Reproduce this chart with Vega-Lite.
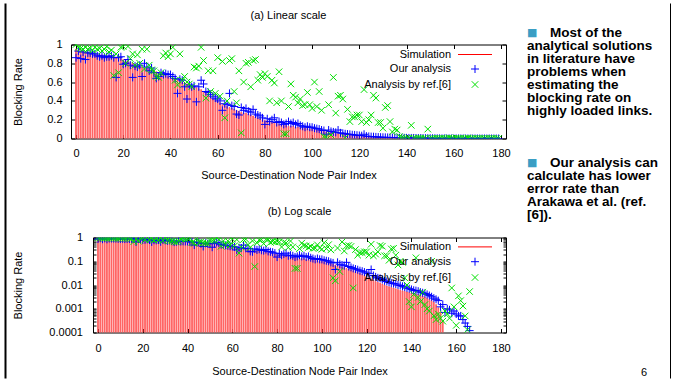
{
"$schema": "https://vega.github.io/schema/vega-lite/v6.json",
"padding": 0,
"background": "white",
"config": {
 "font": "Liberation Sans",
 "view": {"stroke": "black", "strokeWidth": 1},
 "axis": {"labelFont": "Liberation Sans", "labelFontSize": 11, "labelColor": "#000", "tickColor": "#000", "tickWidth": 1, "titleFont": "Liberation Sans", "titleFontSize": 11, "titleFontWeight": "normal", "titleColor": "#000", "minExtent": 0, "domain": false, "domainColor": "#000", "domainWidth": 1, "grid": false, "labelFlush": false, "labelOverlap": false},
 "legend": {"labelFont": "Liberation Sans", "labelFontSize": 11, "labelColor": "#000"},
 "title": {"font": "Liberation Sans", "fontSize": 11, "fontWeight": "normal", "color": "#000", "offset": 17.5, "anchor": "middle", "frame": "group"}
},
"datasets": {
 "d": [
{"i":0,"sim":0.95,"ours":0.86,"ref":1.0},{"i":1,"sim":0.94,"ours":0.93,"ref":0.97},{"i":2,"sim":0.93,"ours":0.85,"ref":0.96},{"i":3,"sim":0.93,"ours":0.92,"ref":0.95},{"i":4,"sim":0.92,"ours":0.84,"ref":0.97},
{"i":5,"sim":0.92,"ours":0.91,"ref":0.95},{"i":6,"sim":0.91,"ours":0.91,"ref":0.96},{"i":7,"sim":0.91,"ours":0.90,"ref":0.94},{"i":8,"sim":0.90,"ours":0.90,"ref":0.97},{"i":9,"sim":0.90,"ours":0.88,"ref":0.95},
{"i":10,"sim":0.89,"ours":0.87,"ref":0.96},{"i":11,"sim":0.89,"ours":0.88,"ref":0.93},{"i":12,"sim":0.88,"ours":0.86,"ref":0.95},{"i":13,"sim":0.88,"ours":0.87,"ref":0.98},{"i":14,"sim":0.88,"ours":0.87,"ref":0.92},
{"i":15,"sim":0.87,"ours":0.88,"ref":0.94},{"i":16,"sim":0.87,"ours":0.86,"ref":0.67},{"i":17,"sim":0.86,"ours":0.65,"ref":0.90},{"i":18,"sim":0.86,"ours":0.86,"ref":0.70},{"i":19,"sim":0.85,"ours":0.87,"ref":0.97},
{"i":20,"sim":0.84,"ours":0.79,"ref":0.98},{"i":21,"sim":0.83,"ours":0.80,"ref":0.80},{"i":22,"sim":0.82,"ours":0.84,"ref":0.98},{"i":23,"sim":0.81,"ours":0.78,"ref":0.85},{"i":24,"sim":0.80,"ours":0.65,"ref":0.90},
{"i":25,"sim":0.79,"ours":0.77,"ref":0.78},{"i":26,"sim":0.78,"ours":0.76,"ref":0.89},{"i":27,"sim":0.77,"ours":0.78,"ref":0.80},{"i":28,"sim":0.76,"ours":0.66,"ref":0.95},{"i":29,"sim":0.75,"ours":0.80,"ref":0.74},
{"i":30,"sim":0.75,"ours":0.76,"ref":0.95},{"i":31,"sim":0.74,"ours":0.72,"ref":0.78},{"i":32,"sim":0.73,"ours":0.75,"ref":0.73},{"i":33,"sim":0.72,"ours":0.70,"ref":0.72},{"i":34,"sim":0.71,"ours":0.64,"ref":0.66},
{"i":35,"sim":0.70,"ours":0.66,"ref":0.65},{"i":36,"sim":0.69,"ours":0.70,"ref":0.70},{"i":37,"sim":0.68,"ours":0.68,"ref":0.88},{"i":38,"sim":0.67,"ours":0.69,"ref":0.91},{"i":39,"sim":0.66,"ours":0.68,"ref":0.87},
{"i":40,"sim":0.65,"ours":0.68,"ref":0.90},{"i":41,"sim":0.64,"ours":0.66,"ref":0.97},{"i":42,"sim":0.63,"ours":0.64,"ref":0.62},{"i":43,"sim":0.62,"ours":0.48,"ref":0.57},{"i":44,"sim":0.61,"ours":0.63,"ref":0.90},
{"i":45,"sim":0.60,"ours":0.62,"ref":0.62},{"i":46,"sim":0.59,"ours":0.55,"ref":0.66},{"i":47,"sim":0.58,"ours":0.42,"ref":0.60},{"i":48,"sim":0.57,"ours":0.57,"ref":0.58},{"i":49,"sim":0.56,"ours":0.55,"ref":0.55},
{"i":50,"sim":0.55,"ours":0.56,"ref":0.76},{"i":51,"sim":0.54,"ours":0.39,"ref":0.75},{"i":52,"sim":0.53,"ours":0.55,"ref":0.77},{"i":53,"sim":0.52,"ours":0.62,"ref":0.97},{"i":54,"sim":0.50,"ours":0.58,"ref":0.83},
{"i":55,"sim":0.48,"ours":0.50,"ref":0.43},{"i":56,"sim":0.46,"ours":0.49,"ref":0.72},{"i":57,"sim":0.44,"ours":0.47,"ref":0.50},{"i":58,"sim":0.42,"ours":0.45,"ref":0.72},{"i":59,"sim":0.41,"ours":0.43,"ref":0.48},
{"i":60,"sim":0.40,"ours":0.42,"ref":0.86},{"i":61,"sim":0.38,"ours":0.40,"ref":0.45},{"i":62,"sim":0.36,"ours":0.30,"ref":0.82},{"i":63,"sim":0.35,"ours":0.37,"ref":0.22},{"i":64,"sim":0.34,"ours":0.36,"ref":0.40},
{"i":65,"sim":0.33,"ours":0.48,"ref":0.83},{"i":66,"sim":0.32,"ours":0.35,"ref":0.85},{"i":67,"sim":0.31,"ours":0.34,"ref":0.50},{"i":68,"sim":0.30,"ours":0.26,"ref":0.38},{"i":69,"sim":0.29,"ours":0.25,"ref":0.72},
{"i":70,"sim":0.28,"ours":0.33,"ref":0.06},{"i":71,"sim":0.27,"ours":0.30,"ref":0.60},{"i":72,"sim":0.27,"ours":0.32,"ref":0.80},{"i":73,"sim":0.26,"ours":0.29,"ref":0.81},{"i":74,"sim":0.25,"ours":0.28,"ref":0.55},
{"i":75,"sim":0.24,"ours":0.31,"ref":0.83},{"i":76,"sim":0.23,"ours":0.26,"ref":0.84},{"i":77,"sim":0.22,"ours":0.25,"ref":0.62},{"i":78,"sim":0.21,"ours":0.24,"ref":0.68},{"i":79,"sim":0.20,"ours":0.22,"ref":0.65},
{"i":80,"sim":0.19,"ours":0.15,"ref":0.69},{"i":81,"sim":0.19,"ours":0.21,"ref":0.66},{"i":82,"sim":0.18,"ours":0.18,"ref":0.40},{"i":83,"sim":0.17,"ours":0.20,"ref":0.62},{"i":84,"sim":0.17,"ours":0.22,"ref":0.59},
{"i":85,"sim":0.16,"ours":0.17,"ref":0.38},{"i":86,"sim":0.15,"ours":0.18,"ref":0.71},{"i":87,"sim":0.15,"ours":0.17,"ref":0.40},{"i":88,"sim":0.14,"ours":0.15,"ref":0.05},{"i":89,"sim":0.14,"ours":0.16,"ref":0.05},
{"i":90,"sim":0.13,"ours":0.18,"ref":0.34},{"i":91,"sim":0.13,"ours":0.16,"ref":0.58},{"i":92,"sim":0.13,"ours":0.17,"ref":0.46},{"i":93,"sim":0.12,"ours":0.15,"ref":0.44},{"i":94,"sim":0.12,"ours":0.16,"ref":0.38},
{"i":95,"sim":0.12,"ours":0.14,"ref":0.42},{"i":96,"sim":0.11,"ours":0.13,"ref":0.35},{"i":97,"sim":0.11,"ours":0.12,"ref":0.36},{"i":98,"sim":0.11,"ours":0.13,"ref":0.49},{"i":99,"sim":0.10,"ours":0.12,"ref":0.36},
{"i":100,"sim":0.10,"ours":0.12,"ref":0.32},{"i":101,"sim":0.095,"ours":0.11,"ref":0.60},{"i":102,"sim":0.09,"ours":0.105,"ref":0.34},{"i":103,"sim":0.085,"ours":0.10,"ref":0.50},{"i":104,"sim":0.08,"ours":0.09,"ref":0.30},
{"i":105,"sim":0.075,"ours":0.085,"ref":0.02},{"i":106,"sim":0.07,"ours":0.045,"ref":0.015},{"i":107,"sim":0.065,"ours":0.09,"ref":0.36},{"i":108,"sim":0.06,"ours":0.075,"ref":0.037},{"i":109,"sim":0.057,"ours":0.07,"ref":0.65},
{"i":110,"sim":0.055,"ours":0.065,"ref":0.27},{"i":111,"sim":0.05,"ours":0.09,"ref":0.45},{"i":112,"sim":0.047,"ours":0.06,"ref":0.46},{"i":113,"sim":0.044,"ours":0.055,"ref":0.42},{"i":114,"sim":0.04,"ours":0.05,"ref":0.0075},
{"i":115,"sim":0.037,"ours":0.047,"ref":0.31},{"i":116,"sim":0.034,"ours":0.044,"ref":0.18},{"i":117,"sim":0.031,"ours":0.04,"ref":0.23},{"i":118,"sim":0.028,"ours":0.038,"ref":0.23},{"i":119,"sim":0.025,"ours":0.035,"ref":0.25},
{"i":120,"sim":0.022,"ours":0.032,"ref":0.25},{"i":121,"sim":0.02,"ours":0.03,"ref":0.18},{"i":122,"sim":0.018,"ours":0.045,"ref":0.52},{"i":123,"sim":0.016,"ours":0.025,"ref":0.17},{"i":124,"sim":0.014,"ours":0.022,"ref":0.20},
{"i":125,"sim":0.013,"ours":0.02,"ref":0.25},{"i":126,"sim":0.012,"ours":0.019,"ref":0.46},{"i":127,"sim":0.011,"ours":0.017,"ref":0.43},{"i":128,"sim":0.010,"ours":0.015,"ref":0.17},{"i":129,"sim":0.009,"ours":0.014,"ref":0.17},
{"i":130,"sim":0.0085,"ours":0.013,"ref":0.11},{"i":131,"sim":0.008,"ours":0.012,"ref":0.33},{"i":132,"sim":0.0075,"ours":0.0115,"ref":0.35},{"i":133,"sim":0.007,"ours":0.011,"ref":0.18},{"i":134,"sim":0.0065,"ours":0.01,"ref":0.07},
{"i":135,"sim":0.006,"ours":0.0095,"ref":0.10},{"i":136,"sim":0.0057,"ours":0.0088,"ref":0.09},{"i":137,"sim":0.0054,"ours":0.0082,"ref":0.02},{"i":138,"sim":0.0051,"ours":0.0075,"ref":0.01},{"i":139,"sim":0.0048,"ours":0.007,"ref":0.002},
{"i":140,"sim":0.0046,"ours":0.0065,"ref":0.0012},{"i":141,"sim":0.0044,"ours":0.006,"ref":0.004},{"i":142,"sim":0.0042,"ours":0.0058,"ref":0.14},{"i":143,"sim":0.004,"ours":0.0055,"ref":0.003},{"i":144,"sim":0.0037,"ours":0.005,"ref":0.002},
{"i":145,"sim":0.0034,"ours":0.0047,"ref":0.005},{"i":146,"sim":0.0031,"ours":0.0044,"ref":0.0015},{"i":147,"sim":0.0028,"ours":0.004,"ref":0.001},{"i":148,"sim":0.0025,"ours":0.0036,"ref":0.0008},{"i":149,"sim":0.0022,"ours":0.0032,"ref":0.1},
{"i":150,"sim":0.0019,"ours":0.0028,"ref":0.0005},{"i":151,"sim":0.0015,"ours":0.0025,"ref":0.00035},{"i":152,"sim":0.0011,"ours":0.0022,"ref":0.0006},{"i":153,"sim":0.0007,"ours":0.0012,"ref":0.0004},{"i":154,"sim":0.0003,"ours":0.0015,"ref":0.0003},
{"i":155,"sim":0,"ours":0.0007,"ref":0.0008},{"i":156,"sim":0,"ours":0.001,"ref":0.0006},{"i":157,"sim":0,"ours":0.0009,"ref":0.0004},{"i":158,"sim":0,"ours":0.00065,"ref":0.0075},{"i":159,"sim":0,"ours":0.0008,"ref":0.0012},
{"i":160,"sim":0,"ours":0.0006,"ref":0.0002},{"i":161,"sim":0,"ours":0.0005,"ref":0.0035},{"i":162,"sim":0,"ours":0.0005,"ref":0.0022},{"i":163,"sim":0,"ours":0.00035,"ref":0.0013},{"i":164,"sim":0,"ours":0.00025,"ref":0.0005},
{"i":165,"sim":0,"ours":0.00018,"ref":0.00013},{"i":166,"sim":0,"ours":0.00012,"ref":0.0053},{"i":167,"sim":0,"ours":0,"ref":0},{"i":168,"sim":0,"ours":0,"ref":0},{"i":169,"sim":0,"ours":0,"ref":0},
{"i":170,"sim":0,"ours":0,"ref":0},{"i":171,"sim":0,"ours":0,"ref":0},{"i":172,"sim":0,"ours":0,"ref":0},{"i":173,"sim":0,"ours":0,"ref":0},{"i":174,"sim":0,"ours":0,"ref":0},
{"i":175,"sim":0,"ours":0,"ref":0},{"i":176,"sim":0,"ours":0,"ref":0},{"i":177,"sim":0,"ours":0,"ref":0},{"i":178,"sim":0,"ours":0,"ref":0},{"i":179,"sim":0,"ours":0,"ref":0}
 ],
 "t": [
  {"line": 0, "kind": "h", "text": "Most of the"},
  {"line": 1, "kind": "b", "text": "analytical solutions"},
  {"line": 2, "kind": "b", "text": "in literature have"},
  {"line": 3, "kind": "b", "text": "problems when"},
  {"line": 4, "kind": "b", "text": "estimating the"},
  {"line": 5, "kind": "b", "text": "blocking rate on"},
  {"line": 6, "kind": "b", "text": "highly loaded links."},
  {"line": 10, "kind": "h", "text": "Our analysis can"},
  {"line": 11, "kind": "b", "text": "calculate has lower"},
  {"line": 12, "kind": "b", "text": "error rate than"},
  {"line": 13, "kind": "b", "text": "Arakawa et al. (ref."},
  {"line": 14, "kind": "b", "text": "[6])."},
  {"line": 26, "kind": "p", "text": "6"}
 ],
 "frame": [{"v": 0}]
},
"vconcat": [
 {
  "width": 600, "height": 1,
  "view": {"stroke": null},
  "data": {"name": "frame"},
  "resolve": {"axis": {"y": "independent"}},
  "layer": [
   {"mark": {"type": "point", "opacity": 0},
    "encoding": {
     "x": {"field": "v", "type": "quantitative", "scale": {"domain": [0, 1], "range": [-68, 600]}, "axis": {"orient": "top", "offset": -1.5, "domain": true, "domainColor": "#d000d0", "domainWidth": 2.5, "ticks": false, "labels": false, "title": null}},
     "y": {"field": "v", "type": "quantitative", "scale": {"domain": [0, 1], "range": [3, 378]}, "axis": {"orient": "left", "offset": 66, "domain": true, "domainColor": "#000", "domainWidth": 2, "ticks": false, "labels": false, "title": null}}
    }},
   {"mark": {"type": "point", "opacity": 0},
    "encoding": {
     "x": {"field": "v", "type": "quantitative", "axis": null},
     "y": {"field": "v", "type": "quantitative", "axis": {"orient": "right", "domain": true, "domainColor": "#000", "domainWidth": 3, "ticks": false, "labels": false, "title": null}}
    }}
  ]
 },
 {
  "hconcat": [
   {
    "concat": [
     {
      "width": 435, "height": 94,
      "title": "(a) Linear scale",
      "data": {"name": "d"},
      "transform": [{"fold": ["sim", "ours", "ref"], "as": ["series", "value"]}],
      "resolve": {"axis": {"x": "independent", "y": "independent"}},
      "layer": [
       {
        "transform": [{"filter": "datum.series == 'sim'"}],
        "mark": {"type": "bar", "width": 0.9, "fill": "#ffb3b3", "stroke": "#ff2020", "strokeWidth": 0.6, "clip": true},
        "encoding": {
         "x": {"field": "i", "type": "quantitative", "scale": {"domain": [0, 180], "nice": false, "zero": false},
               "axis": {"orient": "bottom", "values": [0,20,40,60,80,100,120,140,160,180], "format": "d", "tickSize": -4, "labelPadding": 13, "title": "Source-Destination Node Pair Index", "titlePadding": 11}},
         "y": {"field": "value", "type": "quantitative", "stack": null, "scale": {"domain": [0, 1], "nice": false},
               "axis": {"orient": "left", "values": [0,0.2,0.4,0.6,0.8,1], "format": "~g", "tickSize": -4, "labelPadding": 13, "title": "Blocking Rate", "titlePadding": 23}}
        }
       },
       {
        "transform": [{"filter": "datum.series == 'ours'"}],
        "mark": {"type": "point", "filled": false, "strokeWidth": 1, "size": 100, "opacity": 1, "clip": true},
        "encoding": {
         "x": {"field": "i", "type": "quantitative", "axis": {"orient": "top", "values": [0,20,40,60,80,100,120,140,160,180], "labels": false, "tickSize": -4, "title": null}},
         "y": {"field": "value", "type": "quantitative", "axis": {"orient": "right", "values": [0,0.2,0.4,0.6,0.8,1], "labels": false, "tickSize": -4, "title": null}},
         "color": {"field": "series", "type": "nominal", "scale": {"domain": ["sim", "ours", "ref"], "range": ["#ff0000", "#0000ff", "#00e000"]},
                   "legend": {"orient": "none", "legendX": 398.5, "legendY": 4.5, "title": null, "padding": 0, "labelAlign": "right", "labelOffset": -29.5, "symbolSize": 100, "symbolStrokeWidth": 1, "rowPadding": 2.5, "labelExpr": "datum.label == 'sim' ? 'Simulation' : datum.label == 'ours' ? 'Our analysis' : 'Analysis by ref.[6]'"}},
         "shape": {"field": "series", "type": "nominal", "scale": {"domain": ["sim", "ours", "ref"], "range": ["M-3.4,0H3.4", "M-0.8,0H0.8M0,-0.8V0.8", "M-0.65,-0.65L0.65,0.65M-0.65,0.65L0.65,-0.65"]},
                   "legend": {"orient": "none", "legendX": 398.5, "legendY": 4.5, "title": null, "padding": 0, "labelAlign": "right", "labelOffset": -29.5, "symbolSize": 100, "symbolStrokeWidth": 1, "rowPadding": 2.5, "labelExpr": "datum.label == 'sim' ? 'Simulation' : datum.label == 'ours' ? 'Our analysis' : 'Analysis by ref.[6]'"}}
        }
       },
       {
        "transform": [{"filter": "datum.series == 'ref'"}],
        "mark": {"type": "point", "filled": false, "strokeWidth": 1, "size": 100, "opacity": 1, "clip": true},
        "encoding": {
         "x": {"field": "i", "type": "quantitative", "axis": null},
         "y": {"field": "value", "type": "quantitative", "axis": null},
         "color": {"field": "series", "type": "nominal"},
         "shape": {"field": "series", "type": "nominal"}
        }
       }
      ]
     },
     {
      "width": 435, "height": 95,
      "view": {"stroke": null},
      "title": {"text": "(b) Log scale", "offset": 14.5, "dx": 11},
      "data": {"name": "d"},
      "transform": [{"fold": ["sim", "ours", "ref"], "as": ["series", "value"]}, {"filter": "datum.value > 0"}],
      "resolve": {"axis": {"x": "independent", "y": "independent"}},
      "layer": [
       {
        "transform": [{"filter": "datum.series == 'sim'"}],
        "mark": {"type": "bar", "width": 0.85, "fill": "#ffb3b3", "stroke": "#ff2020", "strokeWidth": 0.6, "clip": true},
        "encoding": {
         "x": {"field": "i", "type": "quantitative", "scale": {"domain": [0, 180], "range": [22, 435], "nice": false, "zero": false},
               "axis": {"orient": "bottom", "domain": true, "values": [0,20,40,60,80,100,120,140,160,180], "format": "d", "tickSize": -4, "labelPadding": 14, "title": "Source-Destination Node Pair Index", "titlePadding": 12}},
         "y": {"field": "value", "type": "quantitative", "stack": null, "scale": {"type": "log", "domain": [0.0001, 1], "nice": false},
               "axis": {"orient": "left", "offset": -22, "domain": true, "values": [0.0001,0.0002,0.0003,0.0004,0.0005,0.0006,0.0007,0.0008,0.0009,0.001,0.002,0.003,0.004,0.005,0.006,0.007,0.008,0.009,0.01,0.02,0.03,0.04,0.05,0.06,0.07,0.08,0.09,0.1,0.2,0.3,0.4,0.5,0.6,0.7,0.8,0.9,1], "labelExpr": "indexof([0.0001,0.001,0.01,0.1,1], datum.value) >= 0 ? format(datum.value, '~g') : ''", "tickSize": -3, "labelPadding": 13.5, "title": "Blocking Rate", "titlePadding": 25.4}},
         "y2": {"datum": 0.0001}
        }
       },
       {
        "transform": [{"filter": "datum.series == 'ours'"}],
        "mark": {"type": "point", "filled": false, "strokeWidth": 1, "size": 100, "opacity": 1, "clip": true},
        "encoding": {
         "x": {"field": "i", "type": "quantitative", "axis": {"orient": "top", "domain": true, "values": [0,20,40,60,80,100,120,140,160,180], "labels": false, "tickSize": -4, "title": null}},
         "y": {"field": "value", "type": "quantitative", "axis": {"orient": "right", "domain": true, "values": [0.0001,0.0002,0.0003,0.0004,0.0005,0.0006,0.0007,0.0008,0.0009,0.001,0.002,0.003,0.004,0.005,0.006,0.007,0.008,0.009,0.01,0.02,0.03,0.04,0.05,0.06,0.07,0.08,0.09,0.1,0.2,0.3,0.4,0.5,0.6,0.7,0.8,0.9,1], "labels": false, "tickSize": -3, "title": null}},
         "color": {"field": "series", "type": "nominal", "scale": {"domain": ["sim", "ours", "ref"], "range": ["#ff0000", "#0000ff", "#00e000"]},
                   "legend": {"orient": "none", "legendX": 398.5, "legendY": 3.9, "title": null, "padding": 0, "labelAlign": "right", "labelOffset": -29.5, "symbolSize": 100, "symbolStrokeWidth": 1, "rowPadding": 2.8, "labelExpr": "datum.label == 'sim' ? 'Simulation' : datum.label == 'ours' ? 'Our analysis' : 'Analysis by ref.[6]'"}},
         "shape": {"field": "series", "type": "nominal", "scale": {"domain": ["sim", "ours", "ref"], "range": ["M-3.4,0H3.4", "M-0.8,0H0.8M0,-0.8V0.8", "M-0.65,-0.65L0.65,0.65M-0.65,0.65L0.65,-0.65"]},
                   "legend": {"orient": "none", "legendX": 398.5, "legendY": 3.9, "title": null, "padding": 0, "labelAlign": "right", "labelOffset": -29.5, "symbolSize": 100, "symbolStrokeWidth": 1, "rowPadding": 2.8, "labelExpr": "datum.label == 'sim' ? 'Simulation' : datum.label == 'ours' ? 'Our analysis' : 'Analysis by ref.[6]'"}}
        }
       },
       {
        "transform": [{"filter": "datum.series == 'ref'"}],
        "mark": {"type": "point", "filled": false, "strokeWidth": 1, "size": 100, "opacity": 1, "clip": true},
        "encoding": {
         "x": {"field": "i", "type": "quantitative", "axis": null},
         "y": {"field": "value", "type": "quantitative", "axis": null},
         "color": {"field": "series", "type": "nominal"},
         "shape": {"field": "series", "type": "nominal"}
        }
       }
      ]
     }
    ],
    "columns": 1,
    "spacing": 24,
    "resolve": {"scale": {"x": "independent", "y": "independent", "color": "independent", "shape": "independent"}, "legend": {"color": "independent", "shape": "independent"}}
   },
   {
    "width": 120, "height": 336,
    "view": {"stroke": null},
    "data": {"name": "t"},
    "encoding": {
     "y": {"field": "line", "type": "quantitative", "scale": {"domain": [0.92, 26.75], "reverse": true, "nice": false, "zero": false}, "axis": null}
    },
    "layer": [
     {"transform": [{"filter": "datum.kind == 'h'"}], "mark": {"type": "text", "text": "■", "font": "DejaVu Sans", "fontSize": 11, "align": "left", "baseline": "middle", "color": "#3a9ec4"}, "encoding": {"x": {"value": 0}}},
     {"transform": [{"filter": "datum.kind == 'h'"}], "mark": {"type": "text", "align": "left", "baseline": "middle", "fontSize": 13.5, "fontWeight": "bold", "dx": 23, "color": "#000"}, "encoding": {"x": {"value": 0}, "text": {"field": "text"}}},
     {"transform": [{"filter": "datum.kind == 'b'"}], "mark": {"type": "text", "align": "left", "baseline": "middle", "fontSize": 13.5, "fontWeight": "bold", "color": "#000"}, "encoding": {"x": {"value": 0}, "text": {"field": "text"}}},
     {"transform": [{"filter": "datum.kind == 'p'"}], "mark": {"type": "text", "align": "right", "baseline": "middle", "fontSize": 11, "dy": 2, "color": "#000"}, "encoding": {"x": {"value": "width"}, "text": {"field": "text"}}}
    ]
   }
  ],
  "spacing": 16
 }
],
"bounds": "flush",
"spacing": 43.5,
"resolve": {"scale": {"x": "independent", "y": "independent"}}
}
